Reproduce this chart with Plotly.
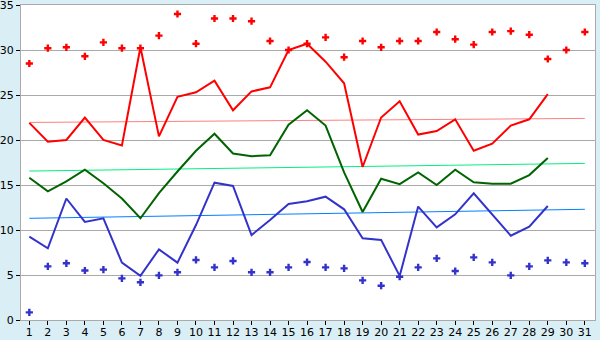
import plotly.graph_objects as go

days = list(range(1, 32))
line_days = list(range(1, 30))

max_line = [21.9, 19.8, 20.0, 22.5, 20.0, 19.4, 30.3, 20.4, 24.8, 25.3, 26.6, 23.3, 25.4, 25.85, 30.0,
            30.7, 28.7, 26.3, 17.0, 22.5, 24.3, 20.6, 21.0, 22.3, 18.8, 19.6, 21.6, 22.3, 25.1]
mean_line = [15.8, 14.3, 15.4, 16.7, 15.2, 13.5, 11.3, 14.1, 16.5, 18.8, 20.7, 18.5, 18.2, 18.3, 21.7,
             23.3, 21.6, 16.4, 12.0, 15.7, 15.1, 16.4, 15.0, 16.7, 15.3, 15.15, 15.15, 16.1, 18.0]
min_line = [9.26, 7.96, 13.5, 10.9, 11.3, 6.37, 4.9, 7.85, 6.37, 10.55, 15.26, 14.9, 9.44, 11.1, 12.9,
            13.2, 13.7, 12.3, 9.07, 8.9, 4.9, 12.6, 10.3, 11.74, 14.07, 11.67, 9.37, 10.37, 12.67]

max_record = [28.5, 30.2, 30.3, 29.3, 30.85, 30.2, 30.2, 31.6, 34.0, 30.7, 33.5, 33.5, 33.2, 31.0, 30.0,
              30.7, 31.4, 29.2, 31.0, 30.3, 31.0, 31.0, 32.0, 31.2, 30.6, 32.0, 32.1, 31.7, 29.0, 30.0, 32.0]
min_record = [0.85, 5.96, 6.3, 5.5, 5.6, 4.63, 4.19, 4.96, 5.3, 6.67, 5.85, 6.56, 5.3, 5.3, 5.85,
              6.44, 5.85, 5.74, 4.4, 3.81, 4.81, 5.85, 6.85, 5.44, 6.96, 6.4, 4.96, 5.96, 6.63, 6.4, 6.3]

trend_days = [1, 31]
max_trend = [21.95, 22.4]
mean_trend = [16.55, 17.4]
min_trend = [11.3, 12.3]

fig = go.Figure()

# trend lines
fig.add_trace(go.Scatter(x=trend_days, y=max_trend, mode="lines", line=dict(color="#ff7f7f", width=1)))
fig.add_trace(go.Scatter(x=trend_days, y=mean_trend, mode="lines", line=dict(color="#00f080", width=1)))
fig.add_trace(go.Scatter(x=trend_days, y=min_trend, mode="lines", line=dict(color="#0080ff", width=1)))

# main lines
fig.add_trace(go.Scatter(x=line_days, y=max_line, mode="lines", line=dict(color="#ff0000", width=2)))
fig.add_trace(go.Scatter(x=line_days, y=mean_line, mode="lines", line=dict(color="#006400", width=2)))
fig.add_trace(go.Scatter(x=line_days, y=min_line, mode="lines", line=dict(color="#3333cc", width=2)))

# record points
fig.add_trace(go.Scatter(x=days, y=max_record, mode="markers",
                         marker=dict(symbol="cross", size=6, color="#ff0000", line=dict(width=0))))
fig.add_trace(go.Scatter(x=days, y=min_record, mode="markers",
                         marker=dict(symbol="cross", size=6, color="#3333cc", line=dict(width=0))))

fig.update_layout(
    width=600, height=340,
    margin=dict(l=21, r=5, t=5, b=20),
    paper_bgcolor="#d9eef5",
    plot_bgcolor="#ffffff",
    showlegend=False,
    font=dict(family="DejaVu Sans", size=11, color="#000000"),
)
fig.update_xaxes(
    range=[0.55, 31.55], tickmode="array", tickvals=days, ticktext=[str(d) for d in days],
    showgrid=False, zeroline=False, showline=True, linecolor="#aaaaaa", linewidth=1, mirror=True,
    ticks="outside", ticklen=4, tickcolor="#000000", tickwidth=1, automargin=False,
    ticklabelstandoff=-2, ticklabeloverflow="allow",
)
fig.update_yaxes(
    range=[0, 35], tickmode="linear", tick0=0, dtick=5,
    showgrid=True, gridcolor="#aaaaaa", gridwidth=1, zeroline=False,
    showline=True, linecolor="#aaaaaa", linewidth=1, mirror=True,
    ticks="outside", ticklen=4, tickcolor="#000000", tickwidth=1, automargin=False,
    ticklabeloverflow="allow",
)

fig.write_html("out.html")
